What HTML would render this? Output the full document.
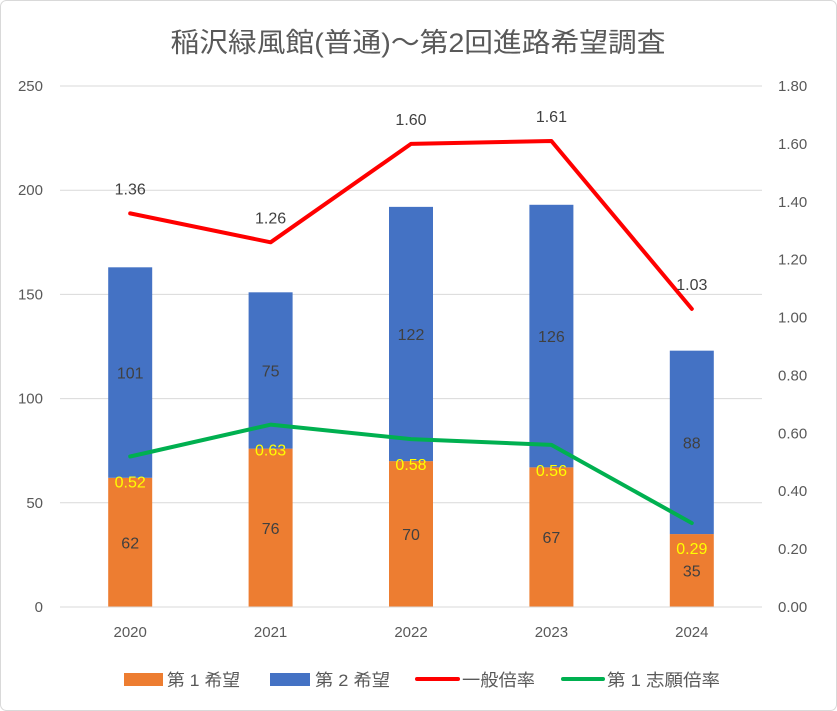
<!DOCTYPE html>
<html><head><meta charset="utf-8">
<style>
body{margin:0;background:#fff;}
svg{display:block;font-family:"Liberation Sans","Noto Sans CJK JP",sans-serif;}
</style></head>
<body>
<svg id="chart" width="837" height="711" viewBox="0 0 837 711">
<rect x="0.5" y="0.5" width="836" height="710" rx="6" fill="#fff" stroke="#d9d9d9"/>
<text x="418" y="52" text-anchor="middle" font-size="27" fill="#595959" textLength="495" lengthAdjust="spacingAndGlyphs">稲沢緑風館(普通)～第2回進路希望調査</text>
<g id="grid"></g><g id="bars"></g><g id="lines"></g><g id="labels"></g><g id="axes"></g>
<g>
<rect x="124" y="673" width="39" height="13" fill="#ED7D31"/>
<text x="167" y="686" font-size="17" fill="#595959" textLength="73" lengthAdjust="spacingAndGlyphs">第 1 希望</text>
<rect x="270" y="673" width="40" height="13" fill="#4472C4"/>
<text x="315" y="686" font-size="17" fill="#595959" textLength="75" lengthAdjust="spacingAndGlyphs">第 2 希望</text>
<line x1="417" y1="679" x2="458" y2="679" stroke="#FF0000" stroke-width="4" stroke-linecap="round"/>
<text x="462" y="686" font-size="17" fill="#595959" textLength="73" lengthAdjust="spacingAndGlyphs">一般倍率</text>
<line x1="563" y1="679" x2="603" y2="679" stroke="#00B050" stroke-width="4" stroke-linecap="round"/>
<text x="607" y="686" font-size="17" fill="#595959" textLength="113" lengthAdjust="spacingAndGlyphs">第 1 志願倍率</text>
</g>
</svg>
<script>
const categories=["2020","2021","2022","2023","2024"];
const firstChoice=[62,76,70,67,35];
const secondChoice=[101,75,122,126,88];
const generalRatio=[1.36,1.26,1.60,1.61,1.03];
const firstRatio=[0.52,0.63,0.58,0.56,0.29];
const leftTicks=[0,50,100,150,200,250];
const rightTicks=["0.00","0.20","0.40","0.60","0.80","1.00","1.20","1.40","1.60","1.80"];

const NS="http://www.w3.org/2000/svg";
const X0=60,X1=762,Y0=607,Y1=86;
const yL=v=>Y0-(v/250)*(Y0-Y1);
const yR=v=>Y0-(v/1.8)*(Y0-Y1);
const step=(X1-X0)/categories.length;
const xC=i=>X0+step*(i+0.5);
const BW=44;
function mk(tag,attrs,parent,text){const e=document.createElementNS(NS,tag);for(const k in attrs)e.setAttribute(k,attrs[k]);if(text!==undefined)e.textContent=text;document.getElementById(parent).appendChild(e);return e;}

leftTicks.forEach(t=>{
  const g=mk('line',{x1:X0,x2:X1,y1:yL(t),y2:yL(t),stroke:'#d9d9d9','stroke-width':1},'grid');
  
  
  const l=mk('text',{x:43,y:yL(t)+5,'text-anchor':'end','font-size':15,fill:'#595959'},'axes',t);
  
  
});
rightTicks.forEach(t=>{
  const l=mk('text',{x:778,y:yR(+t)+5,'font-size':15,fill:'#595959'},'axes',t);
  
  
});
categories.forEach((c,i)=>{
  const l=mk('text',{x:xC(i),y:637,'text-anchor':'middle','font-size':15,fill:'#595959'},'axes',c);
  
  
  const a=firstChoice[i],b=secondChoice[i];
  const r1=mk('rect',{x:xC(i)-BW/2,y:yL(a),width:BW,height:Y0-yL(a),fill:'#ED7D31'},'bars');
  
  
  const r2=mk('rect',{x:xC(i)-BW/2,y:yL(a+b),width:BW,height:yL(a)-yL(a+b),fill:'#4472C4'},'bars');
  
  
  const t1=mk('text',{x:xC(i),y:(yL(a)+Y0)/2+6,'text-anchor':'middle','font-size':16,fill:'#404040'},'labels',a);
  
  
  const t2=mk('text',{x:xC(i),y:(yL(a)+yL(a+b))/2+6,'text-anchor':'middle','font-size':16,fill:'#404040'},'labels',b);
  
  
  const t3=mk('text',{x:xC(i),y:yR(generalRatio[i])-19,'text-anchor':'middle','font-size':16,fill:'#404040'},'labels',generalRatio[i].toFixed(2));
  
  
  const t4=mk('text',{x:xC(i),y:yR(firstRatio[i])+31,'text-anchor':'middle','font-size':16,fill:'#FFFF00'},'labels',firstRatio[i].toFixed(2));
  
  
});
const ax=mk('line',{x1:X0,x2:X1,y1:Y0,y2:Y0,stroke:'#d9d9d9'},'axes');


const p1=mk('polyline',{points:generalRatio.map((v,i)=>xC(i)+','+yR(v)).join(' '),fill:'none',stroke:'#FF0000','stroke-width':4,'stroke-linejoin':'round','stroke-linecap':'round'},'lines');


const p2=mk('polyline',{points:firstRatio.map((v,i)=>xC(i)+','+yR(v)).join(' '),fill:'none',stroke:'#00B050','stroke-width':4,'stroke-linejoin':'round','stroke-linecap':'round'},'lines');


</script>
</body></html>
